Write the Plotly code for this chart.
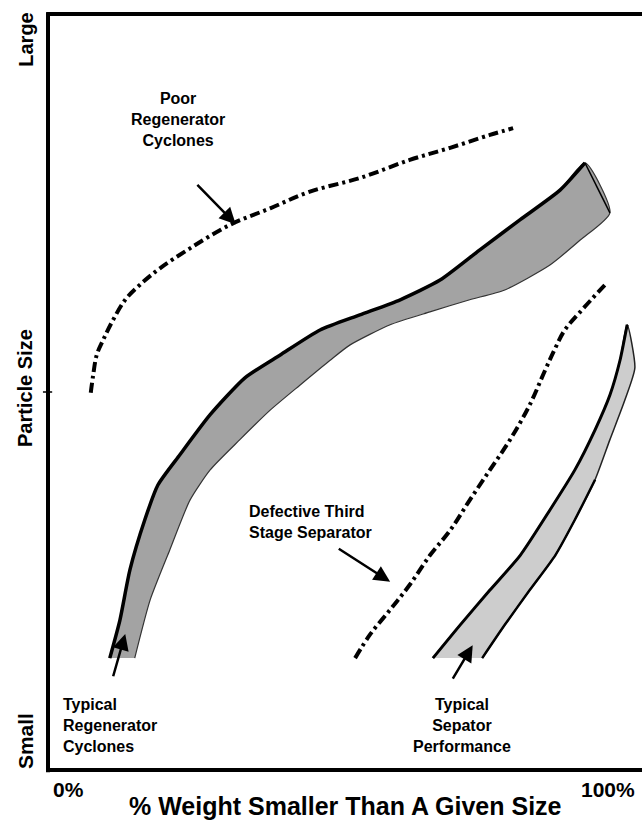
import plotly.graph_objects as go

# Poor regenerator cyclones (dash-dot curve)
poor_x = [7.2, 7.6, 8.2, 9.3, 10.8, 13.0, 15.5, 18.9, 23.9, 30.6, 37.4, 44.1, 52.5, 60.9, 67.7, 74.4, 78.3]
poor_y = [49.9, 52.2, 54.9, 56.9, 59.3, 62.2, 64.2, 66.4, 69.0, 72.1, 74.3, 76.5, 78.3, 80.7, 82.3, 84.0, 84.9]

# Defective third stage separator (dash-dot curve)
defect_x = [51.7, 54.2, 57.6, 60.9, 64.3, 67.7, 71.0, 74.4, 77.8, 81.1, 83.7, 85.4, 87.0, 89.6, 93.8]
defect_y = [14.8, 17.9, 21.2, 24.5, 28.4, 31.7, 35.7, 39.7, 43.7, 48.3, 52.9, 55.8, 58.2, 60.6, 64.2]

# Typical regenerator cyclones band
regen_up_x = [10.4, 12.1, 13.8, 16.3, 18.5, 22.2, 27.3, 33.2, 39.1, 45.8, 52.5, 59.3, 66.0, 72.7, 79.5, 86.2, 90.4]
regen_up_y = [14.8, 19.8, 26.5, 33.1, 37.7, 41.7, 47.0, 51.9, 54.9, 58.2, 60.2, 62.2, 64.8, 68.8, 72.8, 76.7, 80.3]
regen_lo_x = [94.6, 89.6, 84.5, 76.9, 71.0, 64.3, 57.6, 50.8, 47.5, 42.4, 37.4, 32.3, 27.3, 23.9, 20.5, 17.2, 14.6]
regen_lo_y = [73.7, 70.1, 66.8, 63.5, 62.2, 60.6, 58.9, 56.2, 54.2, 50.9, 47.6, 43.7, 39.7, 35.7, 29.1, 22.5, 14.8]

# Typical separator performance band
sep_up_x = [64.8, 69.4, 74.4, 79.5, 84.5, 88.7, 92.1, 94.6, 96.3, 97.5]
sep_up_y = [14.8, 19.2, 23.8, 28.4, 34.4, 39.7, 45.0, 49.6, 54.2, 58.9]
sep_lo_x = [98.8, 97.1, 94.6, 92.1, 88.7, 85.4, 81.1, 76.9, 73.1]
sep_lo_y = [53.2, 48.9, 43.7, 38.4, 33.1, 28.4, 23.8, 19.2, 14.8]

x_tick_labels = ["0%", "100%"]
y_tick_labels = ["Small", "Large"]

FONT = "Liberation Sans, Arial, sans-serif"
DASH = "10px,4px,3px,4px"

fig = go.Figure()

# dark band
fig.add_trace(go.Scatter(x=regen_up_x + regen_lo_x, y=regen_up_y + regen_lo_y,
                         fill="toself", fillcolor="#a3a3a3", mode="lines",
                         line=dict(color="#333333", width=1.2, shape="spline", smoothing=0.6),
                         hoverinfo="skip"))
fig.add_trace(go.Scatter(x=regen_up_x, y=regen_up_y, mode="lines",
                         line=dict(color="black", width=3.5, shape="spline", smoothing=0.6),
                         hoverinfo="skip"))
fig.add_trace(go.Scatter(x=[regen_up_x[-1], regen_lo_x[0]], y=[regen_up_y[-1], regen_lo_y[0]],
                         mode="lines", line=dict(color="black", width=1.5), hoverinfo="skip"))

# light band
fig.add_trace(go.Scatter(x=sep_up_x + sep_lo_x, y=sep_up_y + sep_lo_y,
                         fill="toself", fillcolor="#cdcdcd", mode="lines",
                         line=dict(color="#222222", width=1.5, shape="spline", smoothing=0.6),
                         hoverinfo="skip"))
fig.add_trace(go.Scatter(x=sep_up_x, y=sep_up_y, mode="lines",
                         line=dict(color="black", width=3, shape="spline", smoothing=0.6),
                         hoverinfo="skip"))
fig.add_trace(go.Scatter(x=sep_lo_x[3:], y=sep_lo_y[3:], mode="lines",
                         line=dict(color="black", width=2.5, shape="spline", smoothing=0.6),
                         hoverinfo="skip"))

# dash-dot curves
fig.add_trace(go.Scatter(x=poor_x, y=poor_y, mode="lines",
                         line=dict(color="black", width=4, dash=DASH, shape="spline"), hoverinfo="skip"))
fig.add_trace(go.Scatter(x=defect_x, y=defect_y, mode="lines",
                         line=dict(color="black", width=4, dash=DASH, shape="spline"), hoverinfo="skip"))

# axes frame (paper coords so the lines are not clipped)
for x0, y0, x1, y1 in [(0, -0.003, 0, 1.002), (-0.003, 1, 1, 1), (-0.003, 0, 1, 0)]:
    fig.add_shape(type="line", x0=x0, y0=y0, x1=x1, y1=y1, xref="paper", yref="paper",
                  line=dict(color="black", width=4))
fig.add_shape(type="line", x0=-0.0085, y0=0.5, x1=0.007, y1=0.5, xref="paper", yref="paper",
              line=dict(color="black", width=1.5))

ann = []
def txt(x, y, s, size=16, angle=0, align="center", xanchor="center"):
    ann.append(dict(x=x, y=y, xref="x", yref="y", text=s, showarrow=False,
                    textangle=angle, align=align, xanchor=xanchor, yanchor="middle",
                    font=dict(family=FONT, size=size, color="black")))

# labels outside plot area: paper coordinates (plot area spans 0..1)
def ptxt(px, py, s, size=16, angle=0):
    ann.append(dict(x=px, y=py, xref="paper", yref="paper", text=s, showarrow=False,
                    textangle=angle, xanchor="center", yanchor="middle",
                    font=dict(family=FONT, size=size, color="black")))

def arrow(x, y, ax, ay):
    ann.append(dict(x=x, y=y, ax=ax, ay=ay, xref="x", yref="y", axref="x", ayref="y",
                    text="", showarrow=True, arrowhead=2, arrowsize=1.3, arrowwidth=2.5,
                    arrowcolor="black"))

txt(21.9, 86.0, "<b>Poor<br>Regenerator<br>Cyclones</b>")
txt(44.2, 32.8, "<b>Defective Third<br>Stage Separator</b>", align="left", xanchor="center")
txt(2.2, 5.95, "<b>Typical<br>Regenerator<br>Cyclones</b>", align="left", xanchor="left")
txt(69.7, 5.95, "<b>Typical<br>Sepator<br>Performance</b>", align="center", xanchor="center")

arrow(31.6, 72.2, 24.9, 77.6)
arrow(13.0, 18.0, 10.9, 12.2)
arrow(71.5, 16.5, 68.0, 11.9)
arrow(57.6, 24.9, 48.7, 29.4)

ptxt(0.034, -0.026, "<b>" + x_tick_labels[0] + "</b>", size=21)
ptxt(0.943, -0.026, "<b>" + x_tick_labels[1] + "</b>", size=21)
ptxt(-0.039, 0.038, "<b>" + y_tick_labels[0] + "</b>", size=21, angle=-90)
ptxt(-0.037, 0.966, "<b>" + y_tick_labels[1] + "</b>", size=20, angle=-90)
ptxt(-0.039, 0.505, "<b>Particle Size</b>", size=20, angle=-90)
ptxt(0.50, -0.047, "<b>% Weight Smaller Than A Given Size</b>", size=25)

fig.update_layout(
    width=642, height=821,
    margin=dict(l=48, r=0, t=14, b=51),
    paper_bgcolor="white", plot_bgcolor="white",
    showlegend=False,
    xaxis=dict(range=[0, 100], visible=False, fixedrange=True),
    yaxis=dict(range=[0, 100], visible=False, fixedrange=True),
    annotations=ann,
)

fig.write_html("out.html", config={"displayModeBar": False},
               post_script="document.body.style.margin='0';document.body.style.overflow='hidden';")
